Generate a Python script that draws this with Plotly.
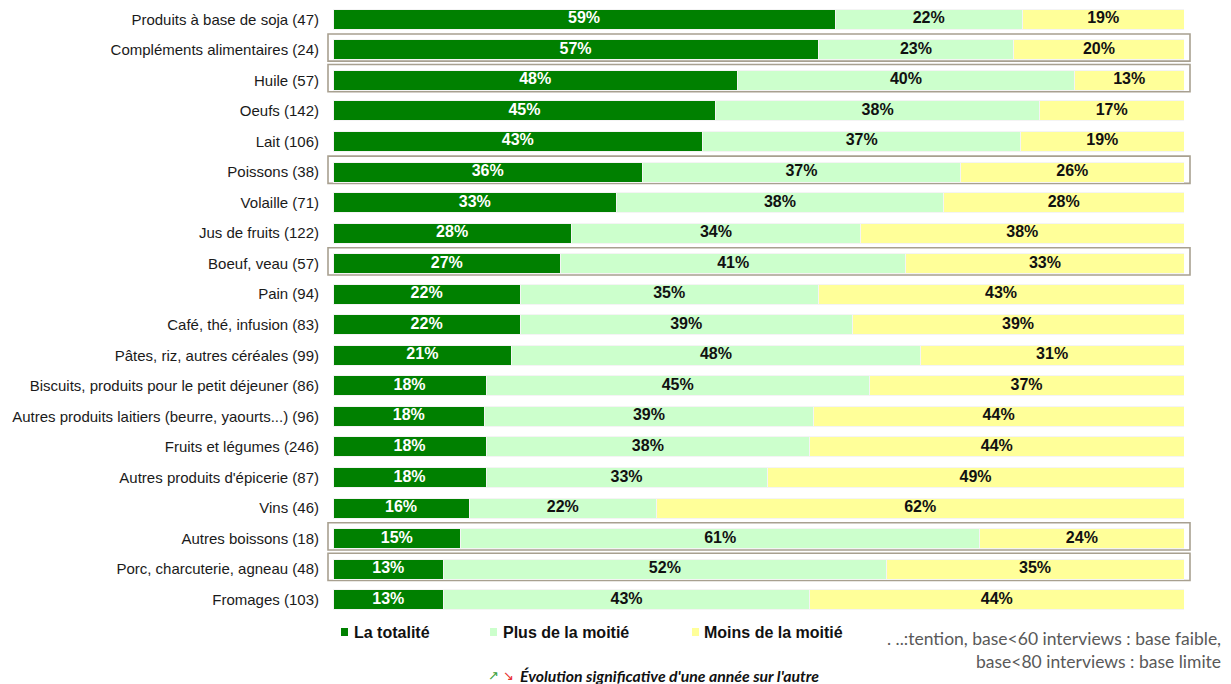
import plotly.graph_objects as go

categories = [
    "Produits à base de soja (47)",
    "Compléments alimentaires (24)",
    "Huile (57)",
    "Oeufs (142)",
    "Lait (106)",
    "Poissons (38)",
    "Volaille (71)",
    "Jus de fruits (122)",
    "Boeuf, veau (57)",
    "Pain (94)",
    "Café, thé, infusion (83)",
    "Pâtes, riz, autres céréales (99)",
    "Biscuits, produits pour le petit déjeuner (86)",
    "Autres produits laitiers (beurre, yaourts...) (96)",
    "Fruits et légumes (246)",
    "Autres produits d'épicerie (87)",
    "Vins (46)",
    "Autres boissons (18)",
    "Porc, charcuterie, agneau (48)",
    "Fromages (103)",
]
totalite = [59, 57, 48, 45, 43, 36, 33, 28, 27, 22, 22, 21, 18, 18, 18, 18, 16, 15, 13, 13]
plus_moitie = [22, 23, 40, 38, 37, 37, 38, 34, 41, 35, 39, 48, 45, 39, 38, 33, 22, 61, 52, 43]
moins_moitie = [19, 20, 13, 17, 19, 26, 28, 38, 33, 43, 39, 31, 37, 44, 44, 49, 62, 24, 35, 44]
series_names = ["La totalité", "Plus de la moitié", "Moins de la moitié"]
boxed_rows = ["Compléments alimentaires (24)", "Huile (57)", "Poissons (38)",
              "Boeuf, veau (57)", "Autres boissons (18)", "Porc, charcuterie, agneau (48)"]

colors = ["#008000", "#CCFFCC", "#FFFF99"]
text_colors = ["#FFFFFF", "#111111", "#111111"]

W, H = 1231, 684
ML, MR, MT, MB = 333, 47, 4, 69
PW, PH = W - ML - MR, H - MT - MB


def px_x(px):
    return (px - ML) / PW


def px_y(py):
    return (H - MB - py) / PH


series = [totalite, plus_moitie, moins_moitie]
fig = go.Figure()
for name, vals, col in zip(series_names, series, colors):
    fig.add_trace(go.Bar(
        y=categories, x=vals, name=name, orientation="h",
        marker=dict(color=col, line=dict(color="#F4F4F4", width=1)),
        width=0.655, showlegend=False, hoverinfo="skip",
    ))

# value labels centred in each (normalised) segment
totals = [a + b + c for a, b, c in zip(*series)]
cum = [0] * len(categories)
for vals, tcol in zip(series, text_colors):
    mids = [(c + v / 2) / t * 100 for c, v, t in zip(cum, vals, totals)]
    fig.add_trace(go.Scatter(
        x=mids, y=categories, mode="text", text=[f"{v}%" for v in vals],
        textposition="middle center",
        textfont=dict(family="Liberation Sans", size=16, color=tcol, weight="bold"),
        showlegend=False, hoverinfo="skip",
    ))
    cum = [c + v for c, v in zip(cum, vals)]

n = len(categories)
fig.update_layout(
    barmode="stack", barnorm="percent",
    width=W, height=H,
    margin=dict(l=ML, r=MR, t=MT, b=MB),
    plot_bgcolor="white", paper_bgcolor="white",
    xaxis=dict(range=[0, 100], visible=False, showgrid=False),
    yaxis=dict(categoryorder="array", categoryarray=categories, range=[n - 0.5, -0.5],
               autorange=False,
               showgrid=False, zeroline=False, showline=False, ticks="",
               tickfont=dict(family="Liberation Sans", size=15, color="#1a1a1a"),
               ticklabelstandoff=13),
    font=dict(family="Liberation Sans"),
)

# boxes around low-base rows
for cat in boxed_rows:
    i = categories.index(cat)
    fig.add_shape(type="rect", xref="paper", yref="y",
                  x0=px_x(328), x1=px_x(1190), y0=i - 0.52, y1=i + 0.37,
                  line=dict(color="#A8A090", width=1.6), fillcolor="rgba(0,0,0,0)", layer="below")

# custom legend
legend_pos = [(341, 352), (490, 501), (692, 702)]
for (sx, tx), name, col in zip(legend_pos, series_names, colors):
    fig.add_shape(type="rect", xref="paper", yref="paper",
                  x0=px_x(sx), x1=px_x(sx + 7), y0=px_y(636), y1=px_y(628),
                  fillcolor=col, line=dict(width=0))
    fig.add_annotation(xref="paper", yref="paper", x=px_x(tx), y=px_y(632),
                       xanchor="left", yanchor="middle", showarrow=False,
                       text=f"<b>{name}</b>",
                       font=dict(family="Liberation Sans", size=16, color="#111111"))

fig.add_annotation(xref="paper", yref="paper", x=px_x(1223), y=px_y(650),
                   xanchor="right", yanchor="middle", showarrow=False, align="right",
                   text=". ..:tention, base&lt;60 interviews : base faible,<br>base&lt;80 interviews : base limite",
                   font=dict(family="Lato", size=17.5, color="#595959"))

fig.add_annotation(xref="paper", yref="paper", x=px_x(486), y=px_y(675),
                   xanchor="left", yanchor="middle", showarrow=False,
                   text='<span style="color:#3aa03a">↗</span> <span style="color:#e83030">↘</span>',
                   font=dict(family="DejaVu Sans", size=13))
fig.add_annotation(xref="paper", yref="paper", x=px_x(518), y=px_y(675),
                   xanchor="left", yanchor="middle", showarrow=False,
                   text="<b><i>Évolution significative d'une année sur l'autre</i></b>",
                   font=dict(family="Lato", size=15.8, color="#111111"))

fig.write_html("out.html", config={"displayModeBar": False},
               post_script="document.body.style.margin='0';document.body.style.padding='0';")
